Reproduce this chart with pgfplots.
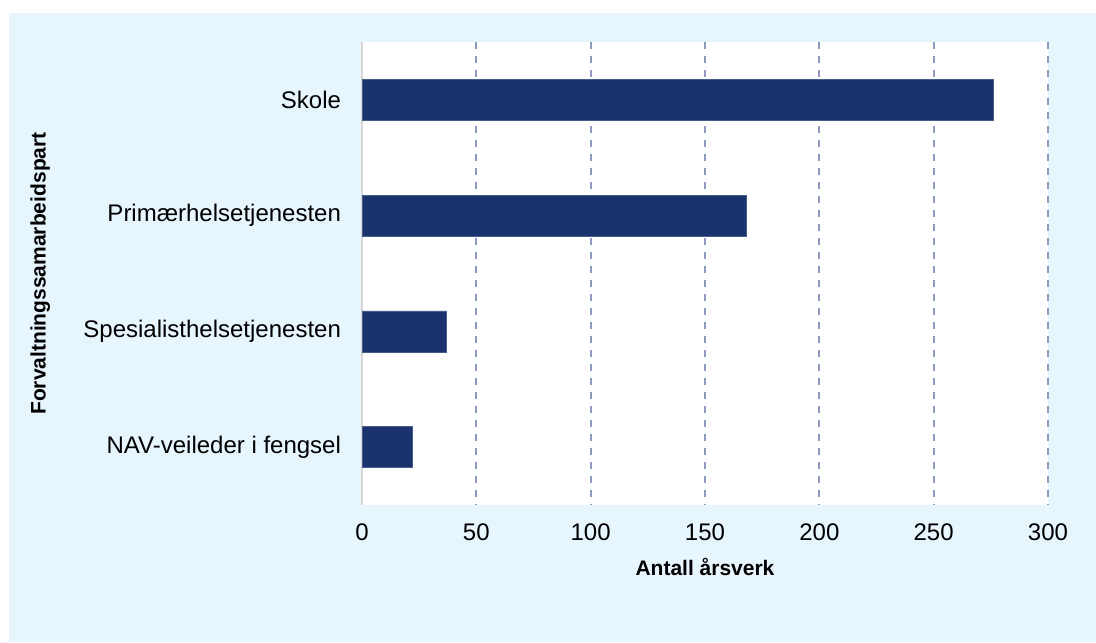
\documentclass[border=0pt]{standalone}
\usepackage{pgfplots}
\pgfplotsset{compat=1.18}
\usepackage{fontspec}
\setmainfont{Liberation Sans}

\definecolor{panelblue}{RGB}{231,245,253}
\definecolor{barblue}{RGB}{26,50,110}
\definecolor{gridblue}{RGB}{140,155,190}
\definecolor{axisgrey}{RGB}{215,215,215}

\begin{document}
\begin{tikzpicture}
  \useasboundingbox (0,0) rectangle (548pt,-321pt);
  \fill[panelblue] (4.5pt,-6.5pt) rectangle (548pt,-321pt);

  \begin{axis}[
      at={(181pt,-252.5pt)}, anchor=south west,
      scale only axis,
      width=343pt, height=231.5pt,
      xbar, bar width=20.5pt,
      xmin=0, xmax=300,
      ymin=-0.5, ymax=3.5,
      y dir=reverse,
      xtick={0,50,...,300},
      ytick={0,1,2,3},
      yticklabels={Skole, Primærhelsetjenesten, Spesialisthelsetjenesten, NAV-veileder i fengsel},
      major tick length=0pt,
      axis background/.style={fill=white},
      axis x line*=bottom, axis y line*=left,
      x axis line style={draw=none},
      y axis line style={draw=axisgrey, line width=1pt, -},
      xmajorgrids,
      grid style={gridblue, line width=0.9pt, dash pattern=on 3.5pt off 3.5pt},
      /pgf/number format/assume math mode=true,
      ticklabel style={font=\fontsize{12}{14}\selectfont},
      xticklabel style={yshift=-6pt},
      yticklabel style={xshift=-7pt},
      xlabel={Antall årsverk},
      ylabel={Forvaltningssamarbeidspart},
      xlabel style={font=\fontsize{10.5}{12}\selectfont\bfseries,
        at={(axis description cs:0.5,-0.134)}, anchor=center},
      ylabel style={font=\fontsize{10.5}{12}\selectfont\bfseries,
        at={(axis description cs:-0.469,0.5)}, anchor=center},
    ]
    \addplot[fill=barblue, draw=barblue!80!white, line width=0.3pt]
      coordinates {(276,0) (168,1) (37,2) (22,3)};
  \end{axis}
\end{tikzpicture}
\end{document}
